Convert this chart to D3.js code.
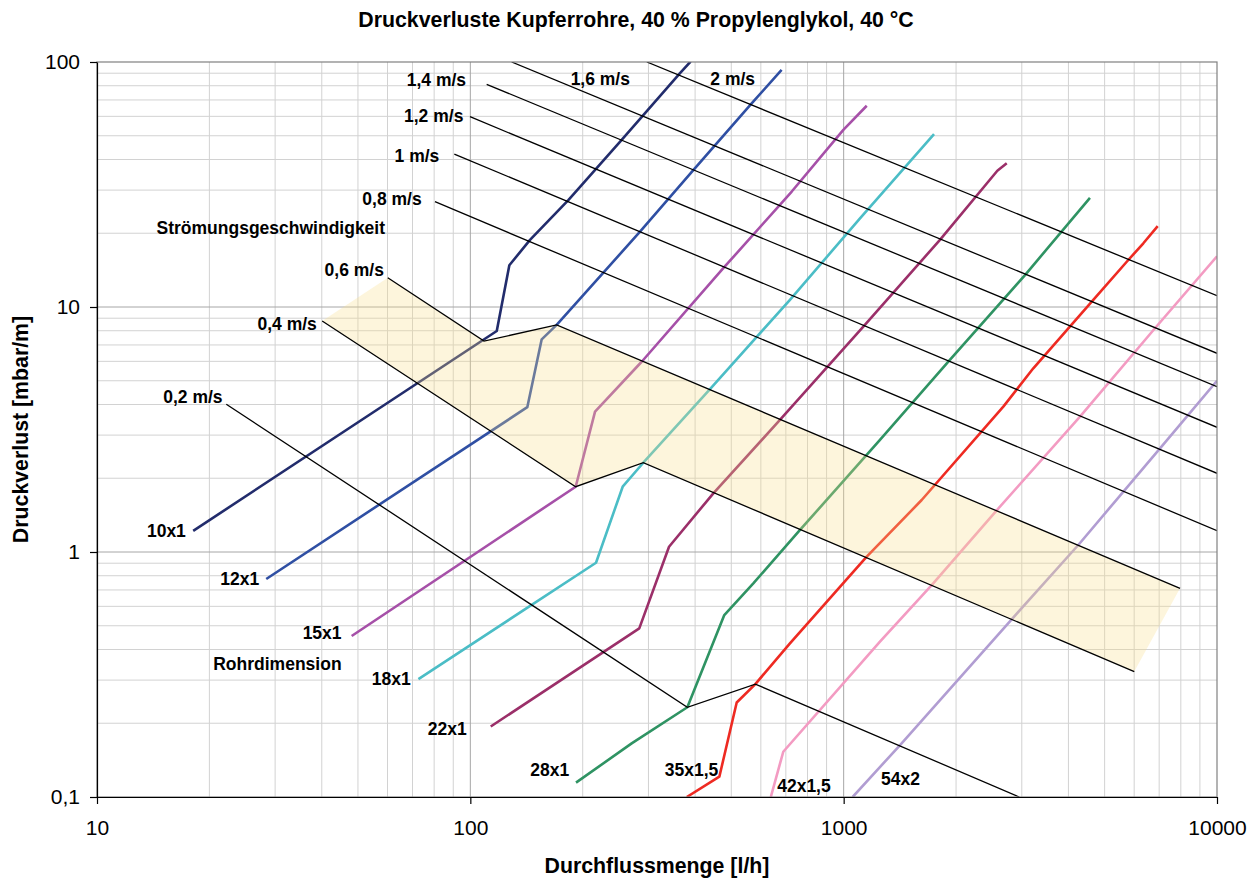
<!DOCTYPE html>
<html>
<head>
<meta charset="utf-8">
<script src="https://cdn.jsdelivr.net/npm/d3@7"></script>
<style>
  body { margin: 0; background: #ffffff; }
  svg text { font-family: "Liberation Sans", Arial, sans-serif; }
</style>
</head>
<body>
<svg id="chart" width="1260" height="882"></svg>
<script>
// ---- axis ticks ----
const xTickValues = [10, 100, 1000, 10000];
const xTickLabels = ["10", "100", "1000", "10000"];
const yTickValues = [0.1, 1, 10, 100];
const yTickLabels = ["0,1", "1", "10", "100"];

// ---- pipe curves: [flow l/h, pressure loss mbar/m] ----
const pipeNames = ["10x1", "12x1", "15x1", "18x1", "22x1", "28x1", "35x1,5", "42x1,5", "54x2"];
const pipe10x1 = [[18.1,1.22],[117.7,7.98],[127.2,14.8],[144.5,18.8],[183,27.3],[254,48.0],[364,89.9],[389,100.4]];
const pipe12x1 = [[28.4,0.776],[142.1,3.90],[155.3,7.38],[170.3,8.45],[284.8,20.3],[395.6,36.2],[567,67.8],[682,92.8]];
const pipe15x1 = [[48.1,0.454],[191.5,1.847],[215.8,3.74],[288.9,6.02],[476,14.4],[726,29.6],[998,52.8],[1153,66.3]];
const pipe18x1 = [[72.6,0.303],[217.1,0.904],[255.9,1.847],[290.6,2.314],[438.5,4.62],[718,10.7],[1106,23.0],[1746,50.8]];
const pipe22x1 = [[113.4,0.194],[283.5,0.488],[340.6,1.051],[447.6,1.736],[675,3.46],[1129,8.31],[1811,18.8],[2580,36.0],[2734,38.6]];
const pipe28x1 = [[191.9,0.1144],[270.5,0.1656],[381.3,0.2324],[478.9,0.553],[572.8,0.745],[764,1.23],[1251,2.87],[1907,5.98],[3060,13.5],[4568,27.9]];
const pipe35x15 = [[380,0.1],[464.5,0.121],[517,0.243],[580,0.289],[718,0.424],[1153,0.957],[1618,1.63],[2677,3.92],[3221,5.62],[4663,10.7],[5731,15.3],[6349,18.2],[6937,21.4]];
const pipe42x15 = [[638,0.1],[689,0.153],[1251,0.431],[1721,0.733],[2570,1.48],[4296,3.57],[6821,8.19],[10000,16.1]];
const pipe54x2 = [[1057,0.1],[1416,0.163],[2819,0.531],[4251,1.068],[7037,2.65],[10000,5.0]];
const pipeColors = ["#222c6c", "#2f4fa3", "#a650a8", "#4bbdc6", "#9b2f69", "#2f9363", "#ee2a22", "#f39bc2", "#b19dd2"];
// label anchor (right edge, middle) of each pipe name
const pipeLabelAt = [[17.3,1.222],[27.2,0.781],[45.2,0.4685],[69.2,0.305],[97.8,0.1907],[184.1,0.1292],[461.6,0.1292],[923.3,0.1109],[1601,0.1192]];

// ---- constant velocity lines ----
const velocityNames = ["0,2 m/s", "0,4 m/s", "0,6 m/s", "0,8 m/s", "1 m/s", "1,2 m/s", "1,4 m/s", "1,6 m/s", "2 m/s"];
const vel02 = [[22.2,4.01],[381.3,0.2324],[580,0.289],[2954,0.1]];
const vel04 = [[40.1,8.77],[191.5,1.847],[290.6,2.314],[6004,0.325]];
const vel06 = [[60.1,13.17],[108.8,7.26],[170.3,8.45],[7962,0.711]];
const vel08 = [[80.4,26.9],[10000,1.222]];
const vel10 = [[90.6,42.1],[10000,2.095]];
const vel12 = [[99.8,59.8],[10000,3.228]];
const vel14 = [[110.6,81.1],[10000,4.73]];
const vel16 = [[129,100],[10000,6.47]];
const vel20 = [[297,100],[10000,11.12]];
const velocityLabelAt = [[21.7,4.30],[38.8,8.58],[58.7,14.16],[74.1,27.6],[82.6,41.5],[95.8,60.4],[97.4,84.4],[267.7,85.2],[578.9,85.2]];

const captionTexts = ["Strömungsgeschwindigkeit", "Rohrdimension"];
const captionAt = [[59.1,21.1],[45.2,0.3513]];

const pipeSeries = [pipe10x1, pipe12x1, pipe15x1, pipe18x1, pipe22x1, pipe28x1, pipe35x15, pipe42x15, pipe54x2];
const velocitySeries = [vel02, vel04, vel06, vel08, vel10, vel12, vel14, vel16, vel20];

// ---- layout ----
const plot = { left: 97, right: 1217, top: 62, bottom: 797 };
const svg = d3.select("#chart");

const x = d3.scaleLog().domain([10, 10000]).range([plot.left, plot.right]);
const y = d3.scaleLog().domain([0.1, 100]).range([plot.bottom, plot.top]);

svg.append("defs").append("clipPath").attr("id", "plotClip")
  .append("rect")
  .attr("x", plot.left).attr("y", plot.top)
  .attr("width", plot.right - plot.left).attr("height", plot.bottom - plot.top);

// ---- grid ----
const grid = svg.append("g");
const isDecade = v => Math.abs(Math.log10(v) - Math.round(Math.log10(v))) < 1e-9;
grid.selectAll("line.vx").data(x.ticks().filter(v => !isDecade(v)))
  .join("line").attr("class", "vx")
  .attr("x1", d => x(d)).attr("x2", d => x(d))
  .attr("y1", plot.top).attr("y2", plot.bottom)
  .attr("stroke", "#d2d2d2").attr("stroke-width", 1);
grid.selectAll("line.hy").data(y.ticks().filter(v => !isDecade(v)))
  .join("line").attr("class", "hy")
  .attr("x1", plot.left).attr("x2", plot.right)
  .attr("y1", d => y(d)).attr("y2", d => y(d))
  .attr("stroke", "#d2d2d2").attr("stroke-width", 1);
grid.selectAll("line.vX").data(xTickValues.slice(1, -1))
  .join("line").attr("class", "vX")
  .attr("x1", d => x(d)).attr("x2", d => x(d))
  .attr("y1", plot.top).attr("y2", plot.bottom)
  .attr("stroke", "#a6a6a6").attr("stroke-width", 1);
grid.selectAll("line.hY").data(yTickValues.slice(1, -1))
  .join("line").attr("class", "hY")
  .attr("x1", plot.left).attr("x2", plot.right)
  .attr("y1", d => y(d)).attr("y2", d => y(d))
  .attr("stroke", "#a6a6a6").attr("stroke-width", 1);

const line = d3.line().x(d => x(d[0])).y(d => y(d[1]));
const content = svg.append("g").attr("clip-path", "url(#plotClip)");

// ---- pipe curves ----
content.selectAll("path.pipe").data(pipeSeries)
  .join("path").attr("class", "pipe")
  .attr("d", line)
  .attr("fill", "none")
  .attr("stroke", (d, i) => pipeColors[i])
  .attr("stroke-width", 2.6)
  .attr("stroke-linejoin", "round")
  .attr("stroke-linecap", "butt");

// ---- recommended velocity band between 0,4 and 0,6 m/s ----
const bandPoints = vel06.concat(vel04.slice().reverse());
content.append("path")
  .attr("d", line(bandPoints) + "Z")
  .attr("fill", "rgb(247,222,140)")
  .attr("fill-opacity", 0.3)
  .attr("stroke", "none");

// ---- velocity lines ----
content.selectAll("path.vel").data(velocitySeries)
  .join("path").attr("class", "vel")
  .attr("d", line)
  .attr("fill", "none")
  .attr("stroke", "#000")
  .attr("stroke-width", 1.3)
  .attr("stroke-linejoin", "miter");

// ---- plot frame ----
svg.append("rect")
  .attr("x", plot.left).attr("y", plot.top)
  .attr("width", plot.right - plot.left).attr("height", plot.bottom - plot.top)
  .attr("fill", "none").attr("stroke", "#808080").attr("stroke-width", 1.2);

// ---- axes ----
const xAxis = d3.axisBottom(x)
  .tickValues(xTickValues)
  .tickFormat((d, i) => xTickLabels[i])
  .tickSize(7).tickSizeOuter(0).tickPadding(16);
const yAxis = d3.axisLeft(y)
  .tickValues(yTickValues)
  .tickFormat((d, i) => yTickLabels[i])
  .tickSize(7).tickSizeOuter(0).tickPadding(10);

const gx = svg.append("g").attr("transform", `translate(0,${plot.bottom})`).call(xAxis);
const gy = svg.append("g").attr("transform", `translate(${plot.left},0)`).call(yAxis);
[gx, gy].forEach(g => {
  g.select(".domain").attr("stroke", "#000").attr("stroke-width", 1.2);
  g.selectAll(".tick line").attr("stroke", "#000").attr("stroke-width", 1.2);
  g.selectAll(".tick text")
    .attr("fill", "#000")
    .style("font-family", '"Liberation Sans", Arial, sans-serif')
    .style("font-size", "21px");
});

// ---- in-plot labels ----
const labelFont = "17.5px";
svg.append("g").selectAll("text").data(velocityNames)
  .join("text")
  .attr("x", (d, i) => x(velocityLabelAt[i][0]))
  .attr("y", (d, i) => y(velocityLabelAt[i][1]))
  .attr("dy", "0.36em")
  .attr("text-anchor", "end")
  .style("font-size", labelFont).style("font-weight", "bold")
  .text(d => d);

svg.append("g").selectAll("text").data(pipeNames)
  .join("text")
  .attr("x", (d, i) => x(pipeLabelAt[i][0]))
  .attr("y", (d, i) => y(pipeLabelAt[i][1]))
  .attr("dy", "0.36em")
  .attr("text-anchor", "end")
  .style("font-size", labelFont).style("font-weight", "bold")
  .text(d => d);

svg.append("g").selectAll("text").data(captionTexts)
  .join("text")
  .attr("x", (d, i) => x(captionAt[i][0]))
  .attr("y", (d, i) => y(captionAt[i][1]))
  .attr("dy", "0.36em")
  .attr("text-anchor", "end")
  .style("font-size", labelFont).style("font-weight", "bold")
  .text(d => d);

// ---- titles ----
svg.append("text")
  .attr("x", 636).attr("y", 27)
  .attr("text-anchor", "middle")
  .style("font-size", "21.3px").style("font-weight", "bold")
  .text("Druckverluste Kupferrohre, 40 % Propylenglykol, 40 °C");

svg.append("text")
  .attr("x", (plot.left + plot.right) / 2).attr("y", 873)
  .attr("text-anchor", "middle")
  .style("font-size", "21.3px").style("font-weight", "bold")
  .text("Durchflussmenge [l/h]");

svg.append("text")
  .attr("transform", `translate(28,${(plot.top + plot.bottom) / 2}) rotate(-90)`)
  .attr("text-anchor", "middle")
  .style("font-size", "21.3px").style("font-weight", "bold")
  .text("Druckverlust [mbar/m]");
</script>
</body>
</html>
